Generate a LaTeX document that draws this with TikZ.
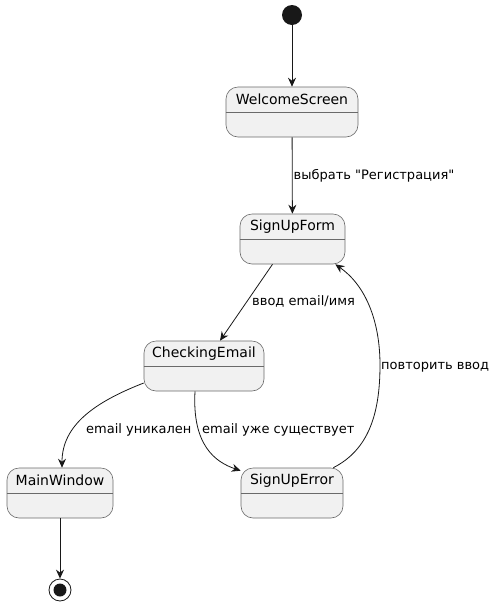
\documentclass[tikz,border=0pt]{standalone}
\usepackage{fontspec}
\setmainfont{DejaVu Sans}
\newfontfamily\diagfont{DejaVu Sans}
\usetikzlibrary{arrows.meta}
\definecolor{statefill}{HTML}{F1F1F1}
\definecolor{stateline}{HTML}{6A6A6A}
\definecolor{edgecol}{HTML}{181818}
\tikzset{>={Stealth[length=9pt,width=8pt,inset=3pt]}}
\tikzset{state/.style={draw=stateline,fill=statefill,rounded corners=12pt,minimum height=50pt,inner sep=0pt,line width=0.6pt}}
\tikzset{statename/.style={font=\diagfont\fontsize{14}{16}\selectfont,text=black,inner sep=0pt}}
\tikzset{edge/.style={->,draw=edgecol,line width=0.8pt}}
\tikzset{lbl/.style={font=\diagfont\fontsize{13}{15}\selectfont,text=black,inner sep=0pt,anchor=west}}
\tikzset{startdot/.style={circle,fill=edgecol,minimum size=20pt,inner sep=0pt}}
\tikzset{enddot/.style={circle,draw=edgecol,fill=white,line width=0.8pt,minimum size=22pt,inner sep=0pt}}

\begin{document}
\begin{tikzpicture}[x=1pt,y=-1pt]
                    \useasboundingbox (0,0) rectangle (499,606);

                    % states
                    \foreach \n/\x/\y/\w/\t in {welcome/292/112/132/WelcomeScreen,
                        form/292.5/239/105/SignUpForm,
                        check/204/366/120/CheckingEmail,
                        main/60/493/106/MainWindow,
                        error/292/493/102/SignUpError}{
                        \node[state,minimum width=\w pt] (\n) at (\x,\y) {};
                        \draw[stateline,line width=0.6pt] ([yshift=-26pt]\n.north west) -- ([yshift=-26pt]\n.north east);
                        \node[statename] (\n-name) at ([yshift=-13pt]\n.north) {\t};
                    }

                    \node[startdot] (start) at (292,15) {};
                    \node[enddot] (end) at (60,590) {};
                    \fill[edgecol] (end.center) circle (6.5);

                    % transitions
                    \draw[edge] (start) -- (welcome);
                    \draw[edge] (welcome) -- node[lbl,xshift=1pt] {выбрать "Регистрация"} (form);
                    \draw[edge] ([xshift=-20pt]form.south) -- ([xshift=16pt]check.north);
                    \node[lbl] (l-input) at (252,301) {ввод email/имя};
                    \draw[edge] ([yshift=-17pt]check.west) .. controls (95,402) and (62,425) .. ([xshift=2pt]main.north);
                    \node[lbl] (l-unique) at (86,430) {email уникален};
                    \draw[edge] ([xshift=-9pt]check.south) .. controls (192,445) and (215,462) .. ([yshift=-3pt]error.north west);
                    \node[lbl] (l-exists) at (202,430) {email уже существует};
                    \draw[edge] ([xshift=-10pt]error.north east) .. controls (368,450) and (380,415) .. (380,365)
                        .. controls (380,320) and (365,285) .. ([xshift=-10pt]form.south east);
                    \node[lbl] (l-retry) at (381,367) {повторить ввод};
                    \draw[edge] (main) -- (end);
                \end{tikzpicture}
\end{document}
